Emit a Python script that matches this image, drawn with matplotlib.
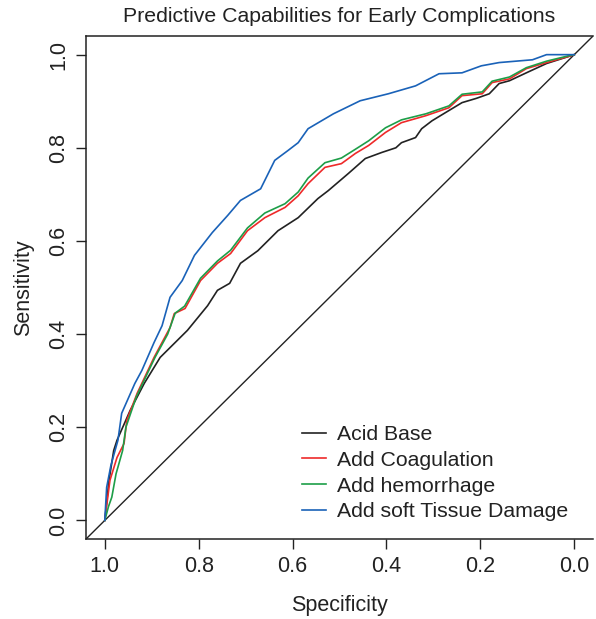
import numpy as np
import matplotlib.pyplot as plt

plt.rcParams['font.family'] = ['Liberation Sans', 'DejaVu Sans']

# ROC curves: specificity / sensitivity
spec_acid = [1.000, 0.991, 0.981, 0.974, 0.946, 0.916, 0.882, 0.852, 0.824, 0.781,
             0.760, 0.734, 0.711, 0.674, 0.631, 0.588, 0.546, 0.524, 0.481, 0.445,
             0.410, 0.380, 0.368, 0.338, 0.325, 0.303, 0.267, 0.239, 0.209, 0.181,
             0.160, 0.138, 0.102, 0.059, 0.006, 0.000]
sens_acid = [0.000, 0.086, 0.150, 0.172, 0.236, 0.294, 0.350, 0.380, 0.408, 0.461,
             0.494, 0.509, 0.552, 0.579, 0.622, 0.650, 0.691, 0.708, 0.745, 0.777,
             0.790, 0.800, 0.811, 0.822, 0.841, 0.858, 0.880, 0.897, 0.906, 0.916,
             0.938, 0.944, 0.961, 0.981, 0.998, 1.000]

spec_coag = [1.000, 0.989, 0.974, 0.959, 0.953, 0.931, 0.895, 0.861, 0.852, 0.829,
             0.796, 0.760, 0.732, 0.696, 0.659, 0.616, 0.588, 0.567, 0.531, 0.496,
             0.466, 0.438, 0.402, 0.368, 0.316, 0.267, 0.239, 0.196, 0.175, 0.138,
             0.102, 0.059, 0.006, 0.000]
sens_coag = [0.000, 0.086, 0.135, 0.165, 0.215, 0.273, 0.350, 0.414, 0.444, 0.455,
             0.515, 0.552, 0.573, 0.622, 0.650, 0.672, 0.697, 0.723, 0.758, 0.766,
             0.788, 0.805, 0.833, 0.854, 0.869, 0.886, 0.912, 0.916, 0.940, 0.948,
             0.970, 0.983, 0.998, 1.000]

spec_hem = [1.000, 0.992, 0.985, 0.976, 0.962, 0.955, 0.933, 0.893, 0.866, 0.850,
            0.830, 0.796, 0.760, 0.732, 0.696, 0.659, 0.616, 0.588, 0.567, 0.531,
            0.496, 0.466, 0.438, 0.402, 0.368, 0.316, 0.267, 0.239, 0.196, 0.175,
            0.138, 0.102, 0.059, 0.006, 0.000]
sens_hem = [0.000, 0.030, 0.050, 0.100, 0.150, 0.200, 0.265, 0.350, 0.400, 0.445,
            0.460, 0.520, 0.557, 0.580, 0.628, 0.660, 0.680, 0.705, 0.735, 0.768,
            0.778, 0.797, 0.815, 0.843, 0.860, 0.873, 0.890, 0.915, 0.920, 0.943,
            0.952, 0.972, 0.986, 0.999, 1.000]

spec_soft = [1.000, 0.996, 0.987, 0.972, 0.964, 0.936, 0.921, 0.895, 0.878, 0.861,
             0.835, 0.809, 0.771, 0.738, 0.711, 0.668, 0.638, 0.610, 0.588, 0.567,
             0.513, 0.456, 0.396, 0.338, 0.288, 0.239, 0.198, 0.160, 0.089, 0.059,
             0.003, 0.000]
sens_soft = [0.000, 0.071, 0.118, 0.172, 0.230, 0.294, 0.322, 0.382, 0.418, 0.479,
             0.515, 0.569, 0.618, 0.655, 0.687, 0.712, 0.773, 0.794, 0.811, 0.841,
             0.873, 0.901, 0.916, 0.933, 0.959, 0.961, 0.976, 0.983, 0.989, 1.000,
             1.000, 1.000]

labels = ['Acid Base', 'Add Coagulation', 'Add hemorrhage', 'Add soft Tissue Damage']
colors = ['#222222', '#ee2a2a', '#1d9e48', '#1a62b8']
txt = '#222222'

fig = plt.figure(figsize=(5.96, 6.19), dpi=100)
ax = fig.add_axes([0.1443, 0.1292, 0.8507, 0.8126])

ax.plot([1.1, -0.1], [-0.1, 1.1], color=txt, lw=1.0)
curves = [(spec_acid, sens_acid), (spec_coag, sens_coag),
          (spec_hem, sens_hem), (spec_soft, sens_soft)]
for (sp, se), lab, c in zip(curves, labels, colors):
    ax.plot(sp, se, color=c, lw=1.2, label=lab)

ax.set_xlim(1.04, -0.04)
ax.set_ylim(-0.04, 1.04)
ticks = [0.0, 0.2, 0.4, 0.6, 0.8, 1.0]
ax.set_xticks(ticks)
ax.set_yticks(ticks)
ax.set_xticklabels(['%.1f' % t for t in ticks])
ax.set_yticklabels(['%.1f' % t for t in ticks], rotation=90, va='center')
ax.tick_params(direction='out', length=7, width=1, colors=txt, labelsize=15.5, pad=5)
ax.spines['right'].set_visible(False)
for s in ['left', 'top', 'bottom']:
    ax.spines[s].set_linewidth(1.1)
    ax.spines[s].set_color(txt)

ax.set_title('Predictive Capabilities for Early Complications', fontsize=15.3,
             color=txt, pad=10)
ax.set_xlabel('Specificity', fontsize=15.5, color=txt, labelpad=13)
ax.set_ylabel('Sensitivity', fontsize=15.5, color=txt, labelpad=10)

ax.legend(loc='lower left', bbox_to_anchor=(0.406, 0.014), frameon=False,
          fontsize=15.3, handlelength=1.12, handletextpad=0.5, labelspacing=0.32,
          borderpad=0, labelcolor=txt)

fig.savefig('out.png', dpi=100)
